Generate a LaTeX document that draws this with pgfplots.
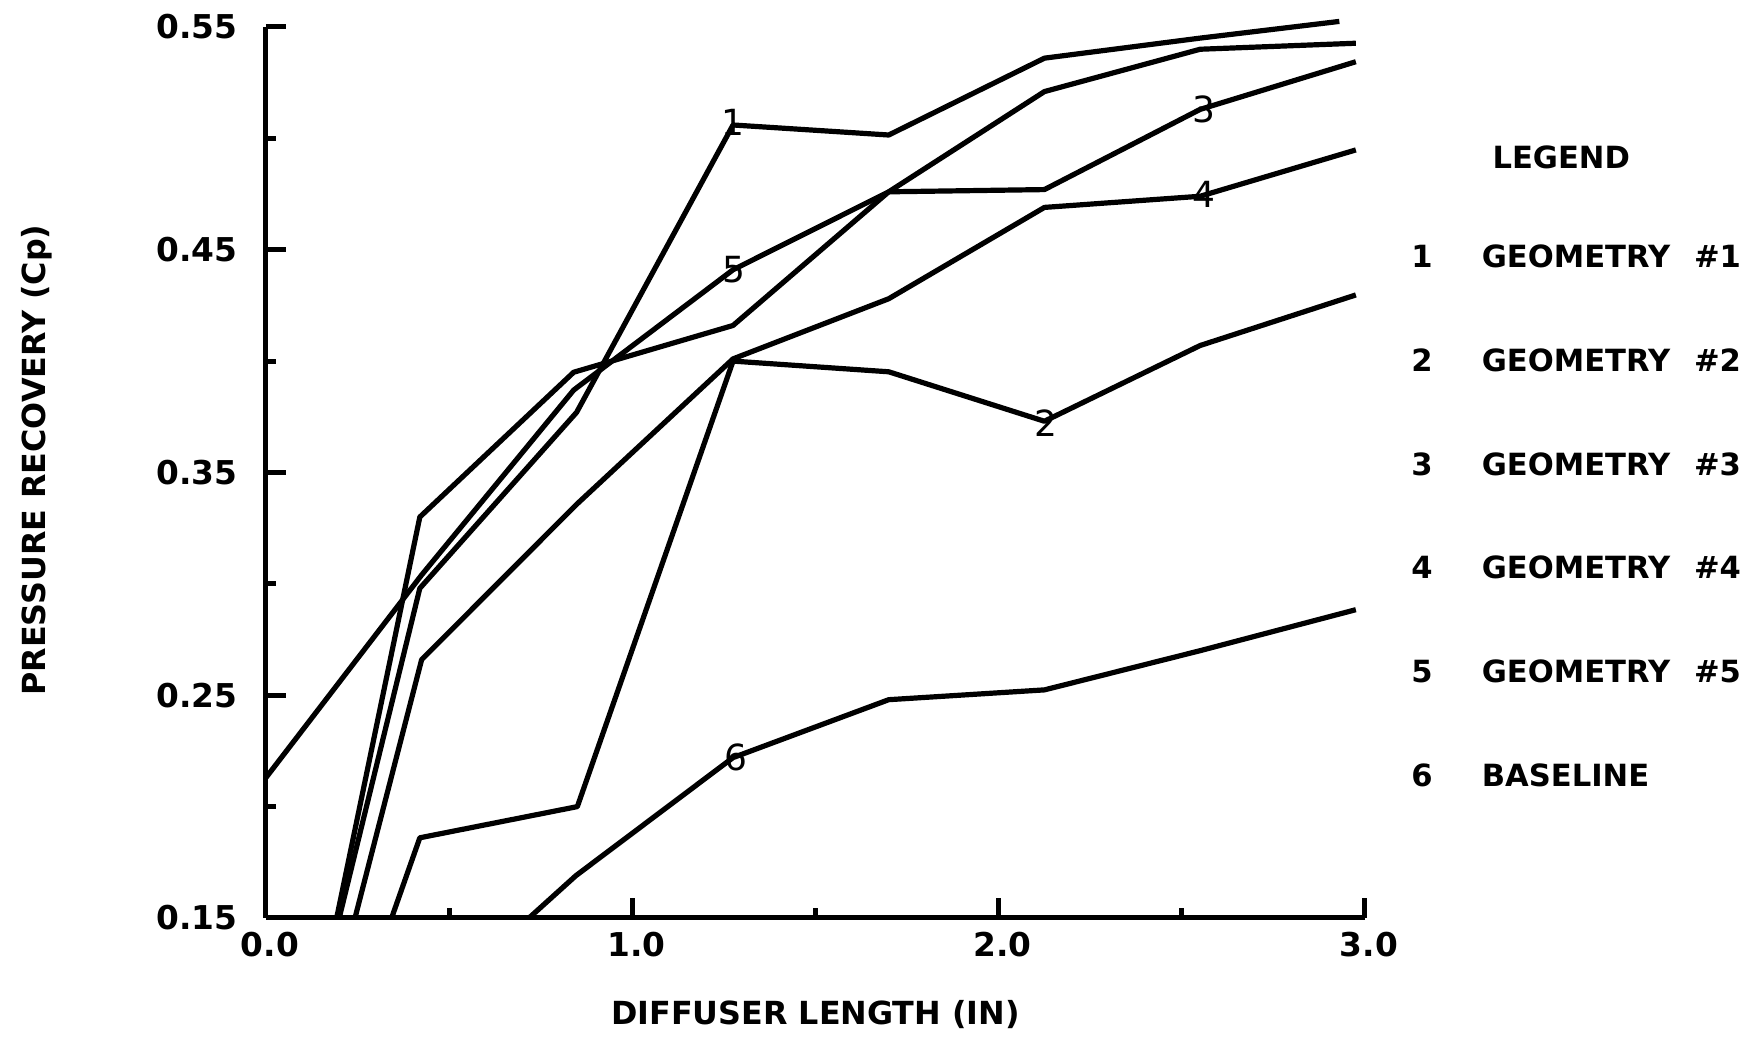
\documentclass[border=0pt]{standalone}
\usepackage{fontspec}
\setmainfont{DejaVu Sans}
\usepackage{pgfplots}
\pgfplotsset{compat=1.18}
\newcommand{\lf}{\fontsize{7.65}{8}\selectfont\bfseries}
\newcommand{\af}{\fontsize{7.95}{8}\selectfont\bfseries}
\newcommand{\nf}{\fontsize{9}{9}\selectfont}
\begin{document}
\begin{tikzpicture}
\begin{axis}[
  scale only axis, width=274.75pt, height=222.75pt,
  xmin=0, xmax=3, ymin=0.15, ymax=0.55,
  axis x line*=bottom, axis y line*=left,
  clip=false,
  tick align=inside,
  major tick length=5pt, minor tick length=2.6pt,
  xtick={0,1,2,3}, xticklabels={0.0,1.0,2.0,3.0},
  minor xtick={0.5,1.5,2.5},
  ytick={0.15,0.25,0.35,0.45,0.55}, yticklabels={0.15,0.25,0.35,0.45,0.55},
  minor ytick={0.2,0.3,0.4,0.5},
  every tick/.style={black, line width=1.25pt},
  axis line style={line width=1.25pt},
  ticklabel style={font=\fontsize{8.2}{8}\selectfont\bfseries, inner sep=0pt},
  yticklabel style={anchor=east, xshift=-7pt},
  xticklabel style={anchor=north, yshift=-3.3pt, xshift=1pt},
  xlabel={DIFFUSER LENGTH (IN)},
  xlabel style={at={(rel axis cs:0.5,-0.1089)}, anchor=center, font=\af, inner sep=0pt},
  ylabel={PRESSURE RECOVERY (Cp)},
  ylabel style={at={(rel axis cs:-0.2084,0.514)}, anchor=center, font=\af, inner sep=0pt},
]
% Geometry #1
\addplot[black, solid, line width=1.3pt, line join=round] coordinates {(0.200,0.150) (0.420,0.298) (0.848,0.377) (1.275,0.506) (1.700,0.5015) (2.125,0.536) (2.550,0.545) (2.930,0.5525)};
% Geometry #2
\addplot[black, solid, line width=1.3pt, line join=round] coordinates {(0.343,0.150) (0.420,0.186) (0.850,0.200) (1.275,0.400) (1.700,0.3952) (2.125,0.373) (2.550,0.407) (2.975,0.4297)};
% Geometry #3
\addplot[black, solid, line width=1.3pt, line join=round] coordinates {(0.193,0.150) (0.420,0.330) (0.840,0.395) (1.275,0.416) (1.700,0.476) (2.125,0.477) (2.550,0.513) (2.975,0.5344)};
% Geometry #4
\addplot[black, solid, line width=1.3pt, line join=round] coordinates {(0.243,0.150) (0.425,0.266) (0.850,0.336) (1.275,0.401) (1.700,0.428) (2.125,0.469) (2.550,0.474) (2.975,0.4948)};
% Geometry #5
\addplot[black, solid, line width=1.3pt, line join=round] coordinates {(0.000,0.213) (0.425,0.304) (0.840,0.387) (1.275,0.441) (1.700,0.476) (2.125,0.521) (2.550,0.540) (2.975,0.5427)};
% Baseline
\addplot[black, solid, line width=1.3pt, line join=round] coordinates {(0.718,0.150) (0.846,0.169) (1.275,0.222) (1.700,0.248) (2.125,0.2524) (2.550,0.270) (2.975,0.2884)};

% curve labels
\node[font=\nf] at (axis cs:1.275,0.507) {1};
\node[font=\nf] at (axis cs:2.130,0.372) {2};
\node[font=\nf] at (axis cs:2.560,0.513) {3};
\node[font=\nf] at (axis cs:2.560,0.475) {4};
\node[font=\nf] at (axis cs:1.278,0.441) {5};
\node[font=\nf] at (axis cs:1.283,0.222) {6};

% legend
\node[font=\lf, anchor=west, inner sep=0pt] at (rel axis cs:1.1153,0.8535) {LEGEND};
\node[font=\lf, anchor=center, inner sep=0pt] at (rel axis cs:1.0519,0.7422) {1};
\node[font=\lf, anchor=west, inner sep=0pt] at (rel axis cs:1.1056,0.7422) {GEOMETRY};
\node[font=\lf, anchor=west, inner sep=0pt] at (rel axis cs:1.2987,0.7422) {\#1};
\node[font=\lf, anchor=center, inner sep=0pt] at (rel axis cs:1.0519,0.6258) {2};
\node[font=\lf, anchor=west, inner sep=0pt] at (rel axis cs:1.1056,0.6258) {GEOMETRY};
\node[font=\lf, anchor=west, inner sep=0pt] at (rel axis cs:1.2987,0.6258) {\#2};
\node[font=\lf, anchor=center, inner sep=0pt] at (rel axis cs:1.0519,0.5094) {3};
\node[font=\lf, anchor=west, inner sep=0pt] at (rel axis cs:1.1056,0.5094) {GEOMETRY};
\node[font=\lf, anchor=west, inner sep=0pt] at (rel axis cs:1.2987,0.5094) {\#3};
\node[font=\lf, anchor=center, inner sep=0pt] at (rel axis cs:1.0519,0.3930) {4};
\node[font=\lf, anchor=west, inner sep=0pt] at (rel axis cs:1.1056,0.3930) {GEOMETRY};
\node[font=\lf, anchor=west, inner sep=0pt] at (rel axis cs:1.2987,0.3930) {\#4};
\node[font=\lf, anchor=center, inner sep=0pt] at (rel axis cs:1.0519,0.2767) {5};
\node[font=\lf, anchor=west, inner sep=0pt] at (rel axis cs:1.1056,0.2767) {GEOMETRY};
\node[font=\lf, anchor=west, inner sep=0pt] at (rel axis cs:1.2987,0.2767) {\#5};
\node[font=\lf, anchor=center, inner sep=0pt] at (rel axis cs:1.0519,0.1603) {6};
\node[font=\lf, anchor=west, inner sep=0pt] at (rel axis cs:1.1056,0.1603) {BASELINE};

\coordinate (bl) at (rel axis cs:-0.242,-0.1347);
\coordinate (tr) at (rel axis cs:1.3585,1.0303);
\end{axis}
\pgfresetboundingbox
\path[use as bounding box] (bl) rectangle (tr);
\end{tikzpicture}
\end{document}
